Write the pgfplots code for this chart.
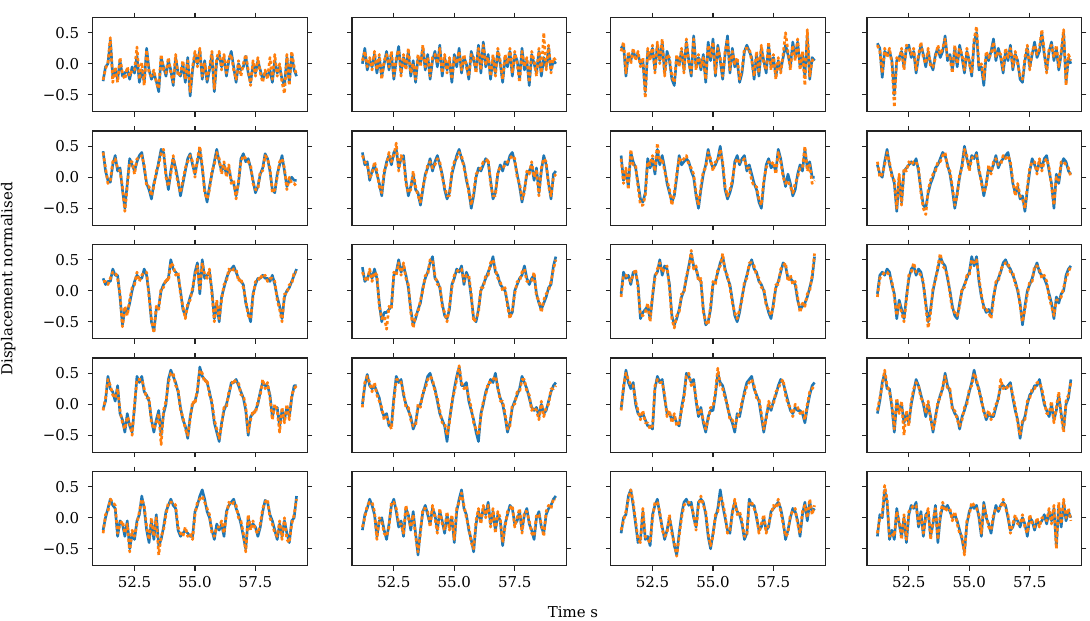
\documentclass[border=0pt]{standalone}
\usepackage{fontspec}
\setmainfont{DejaVu Serif}
\usepackage{pgfplots}
\usepackage{pgfplotstable}
\pgfplotsset{compat=1.18}
\definecolor{mplblue}{RGB}{31,119,180}
\definecolor{mplorange}{RGB}{255,127,14}
\definecolor{frm}{RGB}{35,35,35}

% ---------- row 1 ----------
\pgfplotstableread[header=false]{
t 51.2 51.3 51.4 51.5 51.6 51.7 51.8 51.9 52.0 52.1 52.2 52.3 52.4 52.5 52.6 52.7 52.8 52.9 53.0 53.1 53.2 53.3 53.4 53.5 53.6 53.7 53.8 53.9 54.0 54.1 54.2 54.3 54.4 54.5 54.6 54.7 54.8 54.9 55.0 55.1 55.2 55.3 55.4 55.5 55.6 55.7 55.8 55.9 56.0 56.1 56.2 56.3 56.4 56.5 56.6 56.7 56.8 56.9 57.0 57.1 57.2 57.3 57.4 57.5 57.6 57.7 57.8 57.9 58.0 58.1 58.2 58.3 58.4 58.5 58.6 58.7 58.8 58.9 59.0 59.1 59.2
b1 -0.28 -0.05 0.00 0.38 -0.20 -0.10 -0.25 0.05 -0.20 -0.15 -0.10 -0.25 -0.05 -0.15 0.12 -0.30 -0.10 -0.30 0.25 -0.10 -0.25 -0.15 -0.28 -0.45 0.10 -0.05 -0.20 0.05 -0.10 -0.35 0.10 -0.15 -0.20 0.00 -0.30 0.10 -0.52 -0.10 0.15 0.00 0.22 -0.25 0.05 -0.30 -0.10 0.15 -0.45 0.05 0.15 -0.05 0.10 -0.20 0.05 0.20 -0.05 -0.30 0.00 -0.10 -0.05 0.12 -0.15 -0.30 0.00 -0.15 0.05 -0.10 -0.25 -0.15 -0.20 -0.10 -0.30 0.05 -0.15 -0.05 -0.25 -0.35 0.10 -0.30 0.15 -0.10 -0.20
o1 -0.26 -0.08 0.02 0.42 -0.30 -0.05 -0.30 0.10 -0.15 -0.25 -0.05 -0.20 -0.10 -0.10 0.27 -0.25 0.02 -0.35 0.22 -0.15 -0.20 -0.10 -0.30 -0.40 0.15 -0.10 -0.15 0.10 -0.15 -0.30 0.15 -0.20 -0.15 0.05 -0.25 0.05 -0.45 -0.05 0.20 -0.05 0.25 -0.20 0.00 -0.25 -0.05 0.20 -0.40 0.10 0.20 -0.10 0.15 -0.15 0.10 0.15 -0.10 -0.25 0.05 -0.20 0.00 0.15 -0.10 -0.35 0.05 -0.20 0.10 -0.15 -0.30 -0.10 -0.25 0.10 -0.25 0.15 -0.20 0.00 -0.30 -0.48 0.15 -0.35 0.20 -0.05 -0.18
b2 0.00 0.25 -0.10 0.05 -0.05 0.15 -0.15 0.10 -0.20 0.00 0.20 -0.10 0.15 -0.25 0.05 0.28 -0.15 0.10 -0.05 0.20 -0.20 0.05 -0.30 0.10 0.00 0.25 -0.10 0.15 -0.25 0.05 0.20 -0.05 0.30 -0.20 0.10 -0.10 0.05 -0.30 0.15 -0.05 0.25 -0.15 0.10 0.00 -0.25 0.20 0.05 -0.10 0.30 -0.15 0.35 -0.05 0.15 -0.25 0.10 -0.15 0.20 0.00 -0.30 0.10 -0.05 0.20 -0.20 0.15 0.05 -0.25 0.25 -0.10 0.05 -0.35 0.15 0.00 -0.15 0.20 -0.20 0.10 -0.05 0.25 -0.10 0.05 0.00
o2 0.05 0.20 -0.05 0.10 -0.10 0.20 -0.10 0.15 -0.25 0.05 0.15 -0.05 0.20 -0.20 0.10 0.22 -0.20 0.15 -0.10 0.25 -0.15 0.00 -0.25 0.15 -0.05 0.30 -0.05 0.10 -0.20 0.10 0.15 0.00 0.25 -0.15 0.15 -0.15 0.10 -0.25 0.10 0.00 0.20 -0.10 0.15 -0.05 -0.20 0.15 0.10 -0.15 0.25 -0.10 0.30 0.00 0.10 -0.20 0.15 -0.20 0.25 0.05 -0.25 0.15 0.00 0.25 -0.15 0.20 0.00 -0.30 0.20 -0.05 0.10 -0.30 0.20 0.05 -0.20 0.25 -0.15 0.50 -0.10 0.30 -0.15 0.10 0.05
b3 0.25 0.30 -0.20 0.15 0.05 0.20 0.10 0.15 0.00 0.05 -0.45 0.20 0.10 0.25 -0.10 0.30 0.05 0.35 -0.15 0.20 0.05 -0.25 -0.35 0.10 0.00 0.20 -0.10 0.35 0.05 -0.20 0.45 -0.05 0.10 -0.10 0.15 -0.30 0.35 0.05 0.40 -0.20 0.30 0.05 -0.25 0.15 0.45 -0.15 0.25 -0.05 0.05 -0.30 -0.15 0.20 0.30 0.20 0.10 -0.25 0.15 -0.20 0.25 0.05 -0.15 0.30 -0.05 0.10 -0.20 0.05 -0.10 0.10 0.30 0.15 -0.05 0.35 0.10 0.35 -0.05 0.15 -0.20 0.45 -0.25 0.10 0.05
o3 0.20 0.35 -0.15 0.20 0.00 0.25 0.05 0.20 -0.05 0.10 -0.55 0.25 0.05 0.30 -0.15 0.35 0.00 0.40 -0.20 0.15 0.10 -0.20 -0.30 0.15 -0.05 0.25 -0.15 0.40 0.00 -0.15 0.40 -0.10 0.15 -0.05 0.10 -0.25 0.30 0.10 0.35 -0.15 0.25 0.10 -0.20 0.20 0.40 -0.10 0.20 0.00 0.10 -0.25 -0.10 0.25 0.25 0.25 0.05 -0.20 0.20 -0.15 0.30 0.00 -0.10 0.35 -0.10 0.15 -0.25 0.10 -0.15 0.15 0.50 0.20 -0.10 0.30 0.05 0.40 -0.10 0.20 -0.35 0.55 -0.20 0.05 0.10
b4 0.33 0.25 -0.22 0.20 0.15 0.20 0.05 -0.50 0.05 0.10 0.20 -0.05 0.25 0.30 0.10 0.20 -0.15 0.10 0.30 0.15 -0.05 0.20 0.00 -0.10 0.15 0.25 0.10 0.20 0.45 0.05 0.15 -0.10 0.25 -0.05 0.30 0.10 -0.15 0.20 0.05 -0.20 0.35 0.50 -0.10 -0.05 -0.35 0.15 0.05 0.20 0.40 0.05 0.25 0.10 -0.15 0.20 0.05 0.30 -0.10 0.15 0.05 -0.25 -0.30 0.05 0.25 -0.05 0.15 0.35 0.10 0.20 0.50 0.15 -0.10 0.20 0.35 0.05 0.25 -0.10 0.15 0.50 -0.30 0.10 0.00
o4 0.30 0.20 -0.15 0.25 0.10 0.25 0.00 -0.70 0.10 0.05 0.25 -0.10 0.30 0.25 0.15 0.25 -0.10 0.15 0.35 0.10 0.00 0.25 -0.05 -0.05 0.10 0.30 0.15 0.25 0.40 0.10 0.10 -0.15 0.30 0.00 0.25 0.15 -0.10 0.25 0.00 -0.15 0.40 0.60 -0.05 0.00 -0.25 0.20 0.10 0.15 0.35 0.10 0.20 0.15 -0.10 0.25 0.10 0.25 -0.05 0.20 0.00 -0.20 -0.25 0.10 0.30 -0.10 0.20 0.30 0.15 0.25 0.55 0.20 -0.15 0.25 0.30 0.10 0.30 -0.05 0.20 0.55 -0.35 0.15 0.05
}\rawA
\pgfplotstabletranspose[colnames from=0]\rA\rawA

% ---------- row 2 ----------
\pgfplotstableread[header=false]{
t 51.2 51.3 51.4 51.5 51.6 51.7 51.8 51.9 52.0 52.1 52.2 52.3 52.4 52.5 52.6 52.7 52.8 52.9 53.0 53.1 53.2 53.3 53.4 53.5 53.6 53.7 53.8 53.9 54.0 54.1 54.2 54.3 54.4 54.5 54.6 54.7 54.8 54.9 55.0 55.1 55.2 55.3 55.4 55.5 55.6 55.7 55.8 55.9 56.0 56.1 56.2 56.3 56.4 56.5 56.6 56.7 56.8 56.9 57.0 57.1 57.2 57.3 57.4 57.5 57.6 57.7 57.8 57.9 58.0 58.1 58.2 58.3 58.4 58.5 58.6 58.7 58.8 58.9 59.0 59.1 59.2
b1 0.42 0.10 -0.05 -0.08 0.20 0.35 0.10 0.15 -0.20 -0.50 -0.10 0.30 0.20 0.10 0.25 0.35 0.40 0.15 -0.10 -0.20 -0.35 -0.10 0.05 0.25 0.45 0.40 0.05 -0.20 0.10 0.30 0.15 -0.05 -0.30 -0.10 0.10 0.30 0.38 0.20 0.05 0.25 0.45 0.15 -0.20 -0.40 -0.15 0.05 0.25 0.45 0.25 0.10 0.20 0.05 0.15 -0.05 -0.10 -0.30 -0.10 0.30 0.38 0.25 0.30 0.15 -0.05 -0.25 -0.15 0.05 0.15 0.38 0.30 0.10 -0.20 -0.25 0.05 0.20 0.35 0.10 -0.15 -0.05 0.00 -0.05 -0.05
o1 0.40 0.15 -0.10 -0.05 0.25 0.30 0.15 0.10 -0.15 -0.55 -0.15 0.25 0.25 0.05 0.30 0.30 0.35 0.20 -0.15 -0.15 -0.30 -0.15 0.10 0.20 0.40 0.45 0.00 -0.15 0.05 0.35 0.10 -0.10 -0.25 -0.05 0.15 0.25 0.35 0.25 0.00 0.30 0.50 0.20 -0.25 -0.35 -0.20 0.10 0.20 0.40 0.30 0.05 0.25 0.00 0.20 -0.10 -0.05 -0.35 -0.05 0.25 0.35 0.30 0.25 0.20 -0.10 -0.20 -0.20 0.10 0.10 0.35 0.30 0.15 -0.25 -0.20 0.00 0.25 0.30 0.15 -0.20 0.00 -0.10 -0.10 -0.15
b2 0.40 0.20 0.25 -0.05 0.10 0.20 0.05 -0.10 -0.30 0.05 0.25 0.35 0.20 0.40 0.45 0.15 0.30 0.35 -0.05 -0.30 -0.15 0.05 -0.20 -0.25 -0.45 -0.20 0.05 0.15 0.30 0.10 0.25 0.35 0.20 0.05 -0.20 -0.35 -0.25 0.05 0.20 0.35 0.45 0.30 0.20 -0.05 -0.20 -0.50 -0.30 0.00 0.15 0.10 0.20 0.30 0.25 -0.05 -0.35 -0.25 0.05 0.20 0.10 0.25 0.20 0.35 0.40 0.25 0.05 -0.15 -0.40 -0.20 0.05 0.10 0.20 -0.05 0.15 -0.25 0.10 0.35 0.20 -0.10 -0.35 0.05 0.10
o2 0.35 0.25 0.20 0.00 0.05 0.25 0.10 -0.15 -0.25 0.10 0.20 0.40 0.25 0.35 0.55 0.10 0.35 0.30 -0.10 -0.25 -0.20 0.10 -0.15 -0.30 -0.40 -0.15 0.00 0.20 0.25 0.15 0.20 0.30 0.25 0.00 -0.15 -0.30 -0.30 0.10 0.25 0.30 0.40 0.35 0.15 0.00 -0.25 -0.45 -0.25 0.05 0.10 0.15 0.25 0.25 0.30 -0.10 -0.30 -0.30 0.10 0.15 0.15 0.20 0.25 0.30 0.35 0.30 0.00 -0.10 -0.35 -0.25 0.10 0.05 0.25 0.00 0.10 -0.30 0.15 0.30 0.25 -0.15 -0.30 0.00 0.05
b3 0.35 -0.05 0.10 -0.15 0.40 0.25 0.15 -0.10 -0.35 -0.40 -0.25 0.30 0.15 0.30 0.05 0.45 0.20 0.35 0.15 -0.10 -0.25 -0.40 -0.30 0.00 0.35 0.20 0.25 0.30 0.25 0.10 0.00 -0.30 -0.50 -0.20 0.05 0.20 0.45 0.25 0.15 0.20 0.30 0.50 0.20 -0.20 -0.35 -0.25 -0.10 0.25 0.35 0.20 0.30 0.35 0.10 0.20 0.05 -0.10 -0.20 -0.40 -0.50 -0.10 0.20 0.30 0.15 0.20 0.10 0.45 0.30 0.05 -0.15 0.05 -0.10 -0.30 -0.20 0.05 0.20 0.10 0.45 0.15 0.25 0.00 0.00
o3 0.30 -0.10 0.15 -0.20 0.45 0.20 0.20 -0.15 -0.45 -0.45 -0.30 0.25 0.20 0.35 0.10 0.55 0.25 0.30 0.10 -0.05 -0.20 -0.45 -0.25 0.05 0.30 0.25 0.30 0.35 0.20 0.15 0.05 -0.25 -0.45 -0.15 0.10 0.15 0.40 0.30 0.10 0.25 0.25 0.45 0.25 -0.15 -0.30 -0.20 -0.05 0.20 0.30 0.25 0.25 0.30 0.15 0.15 -0.05 -0.15 -0.15 -0.35 -0.45 -0.05 0.15 0.25 0.20 0.25 0.05 0.40 0.25 0.00 -0.10 -0.05 -0.15 -0.25 -0.10 0.00 0.15 0.15 0.50 0.10 0.20 -0.10 -0.05
b4 0.20 0.05 0.00 0.25 0.45 0.20 0.05 -0.10 -0.55 0.00 -0.40 0.10 0.15 0.20 0.25 0.20 0.30 0.10 -0.20 -0.45 -0.50 -0.25 -0.10 0.00 0.15 0.20 0.30 0.40 0.35 0.20 0.05 -0.20 -0.50 -0.25 0.00 0.20 0.50 0.30 0.15 0.35 0.30 0.40 0.10 -0.05 -0.30 -0.10 0.15 0.10 0.20 0.35 0.15 0.25 0.30 0.35 0.40 0.20 -0.10 -0.25 -0.15 -0.35 -0.30 -0.55 -0.20 0.10 0.30 0.20 0.10 0.25 0.15 0.30 0.35 0.10 -0.10 -0.50 0.05 -0.10 0.20 0.30 0.25 0.10 0.05
o4 0.25 0.00 0.05 0.20 0.40 0.25 0.00 -0.05 -0.50 0.05 -0.45 0.15 0.10 0.25 0.20 0.25 0.25 0.15 -0.25 -0.50 -0.60 -0.20 -0.05 0.05 0.10 0.25 0.25 0.35 0.40 0.15 0.10 -0.15 -0.45 -0.30 0.05 0.15 0.45 0.35 0.10 0.30 0.35 0.35 0.15 -0.10 -0.25 -0.15 0.20 0.05 0.25 0.30 0.20 0.20 0.35 0.30 0.35 0.25 -0.05 -0.30 -0.10 -0.30 -0.35 -0.50 -0.15 0.15 0.25 0.25 0.05 0.30 0.10 0.25 0.30 0.15 -0.15 -0.45 0.00 -0.05 0.25 0.25 0.20 0.15 0.00
}\rawB
\pgfplotstabletranspose[colnames from=0]\rB\rawB

% ---------- row 3 ----------
\pgfplotstableread[header=false]{
t 51.2 51.3 51.4 51.5 51.6 51.7 51.8 51.9 52.0 52.1 52.2 52.3 52.4 52.5 52.6 52.7 52.8 52.9 53.0 53.1 53.2 53.3 53.4 53.5 53.6 53.7 53.8 53.9 54.0 54.1 54.2 54.3 54.4 54.5 54.6 54.7 54.8 54.9 55.0 55.1 55.2 55.3 55.4 55.5 55.6 55.7 55.8 55.9 56.0 56.1 56.2 56.3 56.4 56.5 56.6 56.7 56.8 56.9 57.0 57.1 57.2 57.3 57.4 57.5 57.6 57.7 57.8 57.9 58.0 58.1 58.2 58.3 58.4 58.5 58.6 58.7 58.8 58.9 59.0 59.1 59.2
b1 0.20 0.10 0.15 0.15 0.35 0.25 0.25 -0.10 -0.55 -0.30 -0.35 -0.20 0.00 0.15 0.25 0.20 0.20 0.35 0.25 -0.05 -0.50 -0.65 -0.30 -0.25 0.00 0.10 0.15 0.20 0.50 0.35 0.30 0.25 0.00 -0.30 -0.40 -0.25 -0.10 0.00 0.30 0.45 -0.05 0.50 0.20 0.25 0.30 0.00 -0.45 -0.20 -0.50 -0.10 0.05 0.20 0.30 0.35 0.40 0.30 0.20 0.15 0.10 -0.20 -0.35 -0.50 -0.05 0.10 0.20 0.20 0.25 0.20 0.20 0.15 0.25 0.10 -0.10 -0.25 -0.45 -0.10 0.00 0.05 0.15 0.25 0.35
o1 0.15 0.15 0.10 0.20 0.30 0.30 0.20 -0.05 -0.58 -0.25 -0.40 -0.15 0.05 0.10 0.30 0.15 0.25 0.30 0.30 -0.10 -0.45 -0.68 -0.25 -0.30 0.05 0.05 0.20 0.15 0.45 0.40 0.25 0.30 -0.05 -0.25 -0.45 -0.20 -0.15 0.05 0.25 0.40 0.00 0.45 0.25 0.20 0.35 -0.05 -0.50 -0.15 -0.45 -0.15 0.10 0.15 0.35 0.30 0.35 0.35 0.15 0.20 0.05 -0.15 -0.40 -0.45 -0.10 0.15 0.15 0.25 0.20 0.25 0.15 0.20 0.20 0.15 -0.15 -0.30 -0.50 -0.05 -0.05 0.10 0.10 0.30 0.30
b2 0.38 0.15 0.20 0.30 0.20 0.35 0.20 -0.20 -0.50 -0.35 -0.35 -0.30 -0.25 0.25 0.30 0.50 0.30 0.40 0.25 0.05 -0.30 -0.55 -0.45 -0.30 -0.20 0.05 0.20 0.30 0.45 0.55 0.20 0.15 0.05 -0.20 -0.40 -0.45 -0.30 0.10 0.20 0.35 0.30 0.40 0.10 0.30 0.20 -0.10 -0.45 -0.50 -0.30 0.00 0.10 0.20 0.30 0.40 0.55 0.30 0.25 0.10 0.05 0.00 -0.20 -0.40 -0.35 0.00 0.10 0.20 0.25 0.40 0.20 0.10 0.20 0.25 -0.05 -0.20 -0.30 -0.20 -0.10 0.05 0.10 0.40 0.55
o2 0.30 0.20 0.15 0.35 0.15 0.30 0.25 -0.25 -0.45 -0.40 -0.62 -0.25 -0.30 0.30 0.25 0.45 0.25 0.45 0.20 0.10 -0.35 -0.60 -0.40 -0.35 -0.15 0.00 0.25 0.25 0.50 0.50 0.25 0.10 0.10 -0.25 -0.35 -0.50 -0.25 0.05 0.25 0.30 0.35 0.35 0.15 0.25 0.25 -0.05 -0.50 -0.45 -0.35 0.05 0.05 0.25 0.25 0.45 0.50 0.35 0.20 0.15 0.00 0.05 -0.25 -0.45 -0.30 -0.05 0.15 0.15 0.30 0.35 0.15 0.15 0.15 0.30 -0.10 -0.15 -0.35 -0.15 -0.05 0.00 0.15 0.35 0.50
b3 -0.05 0.30 0.20 0.25 0.10 0.30 0.30 0.10 -0.45 -0.35 -0.30 -0.25 -0.45 -0.10 0.25 0.30 0.50 0.25 0.40 0.35 0.10 -0.40 -0.55 -0.45 -0.30 -0.10 0.00 0.20 0.40 0.60 0.40 0.35 0.20 0.15 -0.30 -0.55 -0.50 -0.30 0.10 0.15 0.30 0.45 0.55 0.35 0.20 0.10 -0.15 -0.40 -0.50 -0.35 -0.10 0.10 0.25 0.40 0.50 0.35 0.30 0.15 0.10 0.00 -0.20 -0.35 -0.45 -0.20 0.05 0.15 0.30 0.45 0.40 0.20 0.20 0.15 0.10 -0.15 -0.30 -0.25 -0.20 -0.10 0.05 0.20 0.55
o3 -0.10 0.25 0.25 0.20 0.15 0.25 0.35 0.05 -0.40 -0.40 -0.35 -0.20 -0.50 -0.05 0.20 0.35 0.45 0.30 0.35 0.40 0.05 -0.45 -0.60 -0.40 -0.35 -0.05 -0.05 0.25 0.35 0.65 0.35 0.40 0.15 0.20 -0.35 -0.50 -0.55 -0.25 0.15 0.10 0.35 0.40 0.60 0.30 0.25 0.05 -0.20 -0.35 -0.45 -0.30 -0.15 0.15 0.20 0.45 0.45 0.40 0.25 0.20 0.05 0.05 -0.25 -0.30 -0.40 -0.25 0.10 0.10 0.35 0.40 0.45 0.15 0.25 0.10 0.15 -0.10 -0.35 -0.20 -0.25 -0.05 0.00 0.25 0.60
b4 -0.05 0.25 0.30 0.25 0.35 0.30 0.10 -0.05 -0.45 -0.15 -0.30 -0.45 -0.10 0.20 0.35 0.40 0.25 0.35 0.30 0.10 -0.20 -0.50 -0.30 0.00 0.20 0.35 0.55 0.45 0.40 0.20 0.00 -0.25 -0.40 -0.45 -0.20 0.00 0.10 0.20 0.30 0.55 0.40 0.55 0.15 -0.10 -0.25 -0.35 -0.30 -0.40 -0.10 0.10 0.20 0.30 0.45 0.50 0.40 0.35 0.25 0.15 0.00 -0.20 -0.55 -0.25 0.00 0.10 0.20 0.35 0.45 0.30 0.25 0.20 0.10 -0.05 -0.20 -0.45 -0.10 -0.20 -0.05 0.00 0.25 0.35 0.40
o4 -0.10 0.20 0.25 0.30 0.30 0.25 0.15 -0.10 -0.40 -0.20 -0.35 -0.50 -0.15 0.25 0.30 0.45 0.30 0.30 0.25 0.15 -0.25 -0.60 -0.35 0.05 0.15 0.40 0.60 0.40 0.35 0.25 -0.05 -0.30 -0.35 -0.40 -0.25 0.05 0.05 0.25 0.25 0.50 0.45 0.50 0.20 -0.05 -0.30 -0.30 -0.35 -0.45 -0.15 0.15 0.15 0.35 0.40 0.45 0.45 0.30 0.30 0.10 0.05 -0.25 -0.50 -0.30 -0.05 0.15 0.15 0.40 0.40 0.35 0.20 0.25 0.15 -0.10 -0.25 -0.40 -0.15 -0.15 -0.10 0.05 0.20 0.30 0.40
}\rawC
\pgfplotstabletranspose[colnames from=0]\rC\rawC

% ---------- row 4 ----------
\pgfplotstableread[header=false]{
t 51.2 51.3 51.4 51.5 51.6 51.7 51.8 51.9 52.0 52.1 52.2 52.3 52.4 52.5 52.6 52.7 52.8 52.9 53.0 53.1 53.2 53.3 53.4 53.5 53.6 53.7 53.8 53.9 54.0 54.1 54.2 54.3 54.4 54.5 54.6 54.7 54.8 54.9 55.0 55.1 55.2 55.3 55.4 55.5 55.6 55.7 55.8 55.9 56.0 56.1 56.2 56.3 56.4 56.5 56.6 56.7 56.8 56.9 57.0 57.1 57.2 57.3 57.4 57.5 57.6 57.7 57.8 57.9 58.0 58.1 58.2 58.3 58.4 58.5 58.6 58.7 58.8 58.9 59.0 59.1 59.2
b1 -0.08 0.05 0.45 0.25 0.20 0.05 0.30 -0.15 -0.25 -0.45 -0.15 -0.35 -0.45 -0.05 0.45 0.35 0.45 0.20 0.15 0.05 -0.25 -0.45 -0.25 -0.10 -0.50 -0.15 0.00 0.40 0.55 0.45 0.35 0.20 -0.05 -0.25 -0.35 -0.55 -0.20 0.00 0.05 0.20 0.60 0.45 0.40 0.35 0.20 0.00 -0.30 -0.45 -0.60 -0.30 -0.10 0.00 0.15 0.35 0.35 0.40 0.30 0.20 0.10 -0.10 -0.50 -0.20 -0.15 -0.10 0.00 0.20 0.35 0.30 0.30 0.15 -0.20 -0.05 -0.05 -0.35 -0.10 -0.25 -0.05 -0.20 0.10 0.30 0.30
o1 -0.10 0.10 0.40 0.30 0.15 0.10 0.25 -0.10 -0.30 -0.40 -0.20 -0.30 -0.50 0.00 0.40 0.40 0.40 0.25 0.10 0.10 -0.30 -0.40 -0.30 -0.15 -0.65 -0.10 0.05 0.35 0.50 0.50 0.30 0.25 -0.10 -0.20 -0.40 -0.50 -0.25 0.05 0.00 0.25 0.55 0.50 0.35 0.40 0.15 0.05 -0.25 -0.40 -0.55 -0.35 -0.05 -0.05 0.20 0.30 0.40 0.35 0.35 0.15 0.15 -0.05 -0.45 -0.25 -0.10 -0.15 0.05 0.15 0.40 0.25 0.35 0.10 -0.25 0.00 -0.10 -0.45 -0.05 -0.30 0.00 -0.25 0.15 0.25 0.30
b2 0.00 0.30 0.48 0.30 0.25 0.30 0.20 0.10 -0.10 -0.20 -0.15 -0.35 -0.35 0.10 0.45 0.35 0.40 0.15 0.00 -0.10 -0.20 -0.40 -0.30 -0.05 0.00 0.15 0.30 0.45 0.50 0.35 0.25 0.05 -0.15 -0.25 -0.35 -0.60 -0.25 0.00 0.25 0.45 0.60 0.30 0.30 0.35 0.05 -0.10 -0.25 -0.45 -0.60 -0.15 0.00 0.20 0.30 0.40 0.35 0.50 0.25 0.10 0.00 -0.20 -0.45 -0.30 -0.05 0.05 0.15 0.25 0.45 0.35 0.25 0.10 -0.05 -0.10 -0.05 -0.20 0.00 -0.15 -0.10 0.05 0.20 0.30 0.35
o2 -0.05 0.35 0.45 0.35 0.20 0.35 0.15 0.05 -0.05 -0.25 -0.20 -0.30 -0.40 0.05 0.40 0.40 0.35 0.20 -0.05 -0.05 -0.25 -0.35 -0.35 0.00 -0.05 0.20 0.25 0.40 0.45 0.40 0.20 0.10 -0.10 -0.30 -0.30 -0.50 -0.30 0.05 0.20 0.40 0.62 0.35 0.25 0.30 0.10 -0.05 -0.30 -0.40 -0.50 -0.20 0.05 0.15 0.35 0.35 0.40 0.45 0.30 0.05 0.05 -0.15 -0.40 -0.35 0.00 0.00 0.20 0.20 0.40 0.40 0.20 0.15 -0.10 -0.05 -0.10 -0.25 0.05 -0.20 -0.05 0.00 0.25 0.25 0.30
b3 -0.08 0.25 0.55 0.35 0.25 0.35 0.00 -0.15 -0.20 -0.15 -0.25 -0.35 -0.35 -0.40 0.25 0.45 0.35 0.40 0.10 -0.15 -0.15 -0.25 -0.20 -0.30 -0.35 -0.05 0.15 0.50 0.45 0.35 0.40 0.05 -0.20 -0.05 -0.30 -0.45 -0.20 -0.10 -0.10 0.15 0.50 0.35 0.30 0.15 -0.05 -0.20 -0.30 -0.45 -0.15 -0.20 0.00 0.20 0.35 0.40 0.45 0.25 0.15 0.05 -0.20 -0.45 -0.20 0.00 -0.10 0.05 0.15 0.30 0.40 0.35 0.20 0.05 -0.10 -0.15 -0.05 -0.10 -0.10 -0.15 -0.30 -0.05 0.15 0.30 0.35
o3 -0.10 0.30 0.50 0.40 0.30 0.30 0.05 -0.10 -0.25 -0.10 -0.30 -0.30 -0.40 -0.35 0.30 0.40 0.35 0.35 0.15 -0.20 -0.10 -0.30 -0.15 -0.35 -0.30 -0.10 0.10 0.45 0.50 0.30 0.35 0.10 -0.15 -0.10 -0.25 -0.40 -0.25 -0.05 -0.05 0.20 0.58 0.30 0.25 0.10 0.00 -0.25 -0.25 -0.40 -0.20 -0.15 0.05 0.15 0.30 0.35 0.40 0.30 0.10 0.10 -0.15 -0.40 -0.25 0.05 -0.05 0.00 0.20 0.25 0.35 0.40 0.15 0.00 -0.05 -0.20 0.00 -0.05 -0.15 -0.10 -0.25 0.00 0.20 0.25 0.30
b4 -0.15 0.05 0.35 0.50 0.25 0.25 -0.05 -0.45 0.05 -0.10 0.00 -0.30 -0.15 -0.30 0.00 0.20 0.40 0.30 0.15 0.00 -0.20 0.00 -0.20 -0.45 -0.20 0.00 0.15 0.25 0.50 0.30 0.20 -0.05 -0.15 -0.20 -0.40 -0.20 -0.10 0.05 0.20 0.35 0.55 0.35 0.25 0.05 -0.10 -0.25 -0.15 -0.20 -0.20 -0.05 0.10 0.30 0.30 0.25 0.30 0.35 0.10 -0.10 -0.25 -0.55 -0.30 -0.20 0.00 0.15 0.20 0.30 0.30 0.40 0.20 0.00 -0.10 -0.20 0.00 -0.25 -0.10 0.15 -0.15 -0.40 0.00 0.10 0.40
o4 -0.10 0.10 0.30 0.55 0.30 0.20 0.00 -0.40 0.10 -0.15 0.05 -0.50 -0.10 -0.35 0.05 0.25 0.35 0.30 0.10 0.05 -0.15 0.05 -0.25 -0.40 -0.25 0.05 0.10 0.30 0.45 0.25 0.25 -0.10 -0.10 -0.25 -0.35 -0.25 -0.05 0.00 0.25 0.30 0.50 0.40 0.20 0.10 -0.15 -0.20 -0.10 -0.25 -0.15 0.00 0.05 0.40 0.25 0.30 0.25 0.30 0.15 -0.05 -0.30 -0.50 -0.25 -0.25 0.05 0.10 0.25 0.25 0.35 0.35 0.25 0.05 -0.15 -0.15 0.05 -0.30 -0.05 0.20 -0.20 -0.45 0.05 0.15 0.35
}\rawD
\pgfplotstabletranspose[colnames from=0]\rD\rawD

% ---------- row 5 ----------
\pgfplotstableread[header=false]{
t 51.2 51.3 51.4 51.5 51.6 51.7 51.8 51.9 52.0 52.1 52.2 52.3 52.4 52.5 52.6 52.7 52.8 52.9 53.0 53.1 53.2 53.3 53.4 53.5 53.6 53.7 53.8 53.9 54.0 54.1 54.2 54.3 54.4 54.5 54.6 54.7 54.8 54.9 55.0 55.1 55.2 55.3 55.4 55.5 55.6 55.7 55.8 55.9 56.0 56.1 56.2 56.3 56.4 56.5 56.6 56.7 56.8 56.9 57.0 57.1 57.2 57.3 57.4 57.5 57.6 57.7 57.8 57.9 58.0 58.1 58.2 58.3 58.4 58.5 58.6 58.7 58.8 58.9 59.0 59.1 59.2
b1 -0.20 0.00 0.15 0.30 0.20 0.15 -0.30 -0.05 -0.10 -0.30 -0.05 -0.50 -0.25 -0.35 -0.05 0.05 0.35 0.15 -0.20 -0.40 -0.05 -0.35 0.05 -0.45 -0.35 -0.15 0.10 0.20 0.30 0.20 0.15 -0.20 -0.30 -0.25 -0.20 -0.25 -0.30 -0.30 0.10 0.20 0.35 0.45 0.30 0.10 0.00 -0.20 -0.35 -0.10 -0.20 -0.10 -0.30 0.10 0.20 0.25 0.30 0.15 0.05 -0.10 -0.30 -0.50 0.00 -0.15 -0.10 -0.15 -0.30 -0.15 0.10 0.28 0.25 0.05 -0.05 -0.20 -0.35 -0.10 -0.30 -0.05 -0.25 -0.40 -0.05 0.00 0.35
o1 -0.25 0.05 0.10 0.30 0.25 0.20 -0.25 -0.10 -0.05 -0.25 -0.10 -0.55 -0.20 -0.30 -0.10 0.10 0.30 0.20 -0.15 -0.35 0.00 -0.30 0.00 -0.60 -0.30 -0.20 0.05 0.25 0.25 0.25 0.20 -0.15 -0.25 -0.30 -0.15 -0.30 -0.25 -0.35 0.05 0.25 0.30 0.35 0.25 0.15 0.05 -0.25 -0.30 -0.15 -0.15 -0.05 -0.25 0.05 0.25 0.20 0.25 0.20 0.00 -0.05 -0.25 -0.55 0.05 -0.20 -0.05 -0.20 -0.25 -0.10 0.15 0.25 0.30 0.00 -0.10 -0.25 -0.30 -0.05 -0.35 0.00 -0.35 -0.40 -0.10 0.05 0.30
b2 -0.20 0.05 0.15 0.30 0.20 0.05 -0.30 -0.05 0.00 -0.20 -0.35 -0.10 0.20 0.30 0.10 -0.15 -0.05 -0.30 0.15 0.05 -0.20 0.10 -0.25 -0.60 -0.20 0.10 0.20 0.05 -0.10 0.15 0.05 -0.20 0.10 -0.05 -0.25 0.05 -0.15 0.00 -0.40 0.10 0.30 0.45 0.15 0.05 -0.20 -0.35 -0.55 -0.10 0.10 -0.05 0.15 0.05 0.25 -0.10 0.10 -0.20 0.05 -0.05 -0.45 -0.10 0.05 0.20 0.15 -0.10 -0.05 0.10 -0.20 0.05 0.15 -0.10 -0.20 -0.35 0.00 0.10 -0.15 -0.25 0.05 0.15 0.20 0.30 0.35
o2 -0.15 0.00 0.20 0.25 0.25 0.10 -0.35 0.00 -0.05 -0.25 -0.30 -0.15 0.25 0.25 0.15 -0.10 -0.10 -0.25 0.20 0.00 -0.15 0.05 -0.30 -0.55 -0.25 0.15 0.15 0.10 -0.15 0.20 0.00 -0.25 0.15 -0.10 -0.20 0.10 -0.20 0.05 -0.35 0.15 0.25 0.40 0.20 0.00 -0.15 -0.40 -0.50 -0.05 0.15 -0.10 0.20 0.00 0.20 -0.15 0.15 -0.25 0.10 0.00 -0.40 -0.15 0.10 0.15 0.20 -0.15 0.00 0.15 -0.25 0.10 0.10 -0.05 -0.25 -0.30 0.05 0.05 -0.10 -0.30 0.10 0.20 0.15 0.30 0.30
b3 -0.25 0.00 0.05 0.35 0.45 0.20 -0.10 -0.40 -0.35 0.10 -0.35 -0.30 -0.45 0.05 0.20 0.30 0.05 -0.15 -0.35 -0.20 0.00 -0.20 -0.45 -0.60 -0.25 0.05 0.25 0.30 0.20 0.25 0.00 -0.15 0.25 0.30 0.25 0.05 -0.30 -0.50 -0.25 0.00 0.15 0.45 0.20 0.00 -0.20 -0.25 0.10 0.25 0.10 0.05 -0.10 -0.35 -0.25 0.30 0.20 0.20 0.00 -0.20 -0.15 0.00 -0.20 -0.15 0.10 0.15 0.20 0.25 0.15 -0.05 -0.35 -0.20 0.00 0.15 0.10 -0.05 -0.30 0.05 0.25 -0.05 0.25 0.10 0.15
o3 -0.20 -0.05 0.10 0.30 0.45 0.25 -0.05 -0.35 -0.40 0.15 -0.30 -0.35 -0.40 0.00 0.25 0.25 0.10 -0.20 -0.30 -0.25 0.05 -0.25 -0.40 -0.62 -0.30 0.00 0.20 0.25 0.25 0.20 0.05 -0.20 0.20 0.35 0.20 0.10 -0.25 -0.45 -0.30 0.05 0.10 0.35 0.25 0.05 -0.25 -0.20 0.05 0.30 0.05 0.10 -0.05 -0.30 -0.30 0.25 0.25 0.15 0.05 -0.25 -0.10 0.05 -0.25 -0.10 0.05 0.20 0.15 0.30 0.10 -0.10 -0.30 -0.25 0.05 0.10 0.15 -0.10 -0.25 0.10 0.20 0.00 0.30 0.05 0.20
b4 -0.30 0.05 0.00 0.45 0.25 -0.35 -0.20 -0.35 0.15 -0.10 -0.30 0.00 -0.40 0.05 0.20 0.15 0.25 -0.15 0.10 -0.30 0.05 0.10 -0.30 -0.10 0.20 -0.40 0.00 0.20 0.15 0.20 0.10 0.00 0.05 -0.05 -0.20 -0.35 -0.55 -0.10 0.10 0.20 0.15 0.20 0.00 -0.30 0.25 0.00 -0.10 -0.25 0.00 0.20 0.10 0.20 0.25 0.20 0.00 -0.20 -0.15 0.00 -0.05 -0.15 0.00 -0.10 -0.30 0.00 -0.05 -0.20 -0.05 -0.10 -0.05 0.05 -0.10 0.10 -0.05 0.15 -0.45 0.20 -0.15 0.25 -0.05 0.10 0.00
o4 -0.25 0.00 0.05 0.52 0.30 -0.30 -0.25 -0.30 0.10 -0.05 -0.35 0.05 -0.35 0.10 0.15 0.20 0.20 -0.10 0.05 -0.25 0.00 0.15 -0.35 -0.05 0.15 -0.35 0.05 0.25 0.10 0.15 0.15 -0.05 0.10 -0.10 -0.25 -0.30 -0.60 -0.05 0.05 0.25 0.20 0.15 0.05 -0.25 0.20 0.05 -0.15 -0.20 0.05 0.15 0.15 0.15 0.30 0.15 0.05 -0.25 -0.10 0.05 -0.10 -0.10 0.05 -0.15 -0.25 0.05 -0.10 -0.15 0.00 -0.15 0.00 0.00 -0.05 0.15 -0.10 0.20 -0.50 0.25 -0.10 0.30 0.00 0.15 -0.05
}\rawE
\pgfplotstabletranspose[colnames from=0]\rE\rawE

\newcommand\fs{\fontsize{15}{18}\selectfont}
\pgfplotsset{
  panel/.style={
    scale only axis, width=214.5pt, height=94.2pt, anchor=north west,
    xmin=50.77, xmax=59.64, ymin=-0.772, ymax=0.745,
    xtick={52.5,55,57.5}, ytick={-0.5,0,0.5},
    xticklabels={}, yticklabels={},
    tick align=outside, major tick length=4.9pt,
    every tick/.style={frm, line width=1.1pt},
    axis line style={frm, line width=1.1pt},
    tick label style={font=\fs, inner sep=0pt, text=black},
    yticklabel style={anchor=east, xshift=-8.4pt},
    xticklabel style={anchor=north, yshift=-6pt},
    clip=true,
  },
  yl/.style={yticklabels={−0.5,0.0,0.5}},
  xl/.style={xticklabels={52.5,55.0,57.5}},
  bl/.style={mplblue, line width=2.6pt, line join=round},
  og/.style={mplorange, line width=2.7pt, line join=round, dash pattern=on 3.2pt off 2.6pt},
}
\newcommand\pan[5]{%
  \begin{axis}[panel, at={(#1pt,#2pt)}, #3]
    \addplot[bl] table[x=t, y=b#5] {#4};
    \addplot[og] table[x=t, y=o#5] {#4};
  \end{axis}}

\begin{document}
\begin{tikzpicture}
\useasboundingbox (0,0) rectangle (1090pt,621pt);
% row 1
\pan{92.7}{603.5}{yl}{\rA}{1}
\pan{352}{603.5}{}{\rA}{2}
\pan{610.7}{603.5}{}{\rA}{3}
\pan{867}{603.5}{}{\rA}{4}
% row 2
\pan{92.7}{490}{yl}{\rB}{1}
\pan{352}{490}{}{\rB}{2}
\pan{610.7}{490}{}{\rB}{3}
\pan{867}{490}{}{\rB}{4}
% row 3
\pan{92.7}{376.5}{yl}{\rC}{1}
\pan{352}{376.5}{}{\rC}{2}
\pan{610.7}{376.5}{}{\rC}{3}
\pan{867}{376.5}{}{\rC}{4}
% row 4
\pan{92.7}{263}{yl}{\rD}{1}
\pan{352}{263}{}{\rD}{2}
\pan{610.7}{263}{}{\rD}{3}
\pan{867}{263}{}{\rD}{4}
% row 5
\pan{92.7}{149.5}{yl,xl}{\rE}{1}
\pan{352}{149.5}{xl}{\rE}{2}
\pan{610.7}{149.5}{xl}{\rE}{3}
\pan{867}{149.5}{xl}{\rE}{4}
\node[font=\fs, anchor=base] at (573pt,3.5pt) {Time s};
\node[font=\fs, rotate=90, anchor=base] at (12.3pt,342pt) {Displacement normalised};
\end{tikzpicture}
\end{document}
